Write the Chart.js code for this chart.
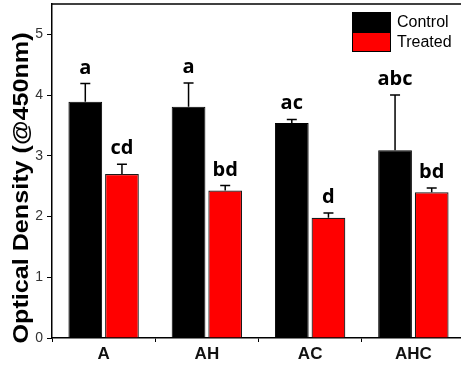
<!DOCTYPE html>
<html>
<head>
<meta charset="utf-8">
<script src="https://cdn.jsdelivr.net/npm/chart.js@4"></script>
<style>
  html, body { margin: 0; padding: 0; background: #fff; overflow: hidden; }
  #wrap { width: 470px; height: 367px; }
</style>
</head>
<body>
<div id="wrap"><canvas id="c" width="470" height="367"></canvas></div>
<script>
const categories = ['A', 'AH', 'AC', 'AHC'];
const controlValues = [3.89, 3.81, 3.54, 3.09];
const controlErrors = [0.30, 0.39, 0.06, 0.91];
const treatedValues = [2.70, 2.43, 1.98, 2.40];
const treatedErrors = [0.16, 0.08, 0.08, 0.07];
const controlLetters = ['a', 'a', 'ac', 'abc'];
const treatedLetters = ['cd', 'bd', 'd', 'bd'];
const yTicks = [0, 1, 2, 3, 4, 5];

const errors = [controlErrors, treatedErrors];
const letters = [controlLetters, treatedLetters];

const decor = {
  id: 'decor',
  afterDatasetsDraw(chart) {
    const ctx = chart.ctx;
    const y = chart.scales.y;
    chart.data.datasets.forEach((ds, di) => {
      const meta = chart.getDatasetMeta(di);
      meta.data.forEach((bar, i) => {
        const v = ds.data[i];
        const e = errors[di][i];
        const yTop = y.getPixelForValue(v);
        const yErr = y.getPixelForValue(v + e);
        ctx.save();
        ctx.strokeStyle = '#000';
        ctx.lineWidth = 1.5;
        ctx.beginPath();
        ctx.moveTo(bar.x, yTop);
        ctx.lineTo(bar.x, yErr);
        ctx.moveTo(bar.x - 5, yErr);
        ctx.lineTo(bar.x + 5, yErr);
        ctx.stroke();
        ctx.fillStyle = '#000';
        ctx.font = 'bold 20px "Open Sans"';
        ctx.textAlign = 'center';
        ctx.textBaseline = 'alphabetic';
        ctx.fillText(letters[di][i], bar.x, yErr - 10);
        ctx.restore();
      });
    });
  },
  afterDraw(chart) {
    const ctx = chart.ctx;
    const a = chart.chartArea;
    ctx.save();
    ctx.strokeStyle = '#000';
    ctx.lineWidth = 1.5;
    ctx.beginPath();
    ctx.moveTo(a.left, a.top);
    ctx.lineTo(a.right, a.top);
    ctx.stroke();
    ctx.save();
    ctx.translate(22, 188);
    ctx.rotate(-Math.PI / 2);
    ctx.scale(1.17, 1);
    ctx.font = 'bold 21.5px Arial, "Liberation Sans"';
    ctx.fillStyle = '#000';
    ctx.textAlign = 'center';
    ctx.textBaseline = 'middle';
    ctx.fillText('Optical Density (@450nm)', 0, 0);
    ctx.restore();
    const boxX = 352, boxW = 39, boxH = 20;
    chart.data.datasets.forEach((ds, di) => {
      const by = 12 + di * boxH;
      ctx.fillStyle = ds.backgroundColor;
      ctx.fillRect(boxX, by, boxW, boxH);
      ctx.strokeStyle = '#000';
      ctx.lineWidth = 1;
      ctx.strokeRect(boxX + 0.5, by + 0.5, boxW - 1, boxH - 1);
      ctx.fillStyle = '#000';
      ctx.font = '16px Arial, "Liberation Sans"';
      ctx.textAlign = 'left';
      ctx.textBaseline = 'middle';
      ctx.fillText(ds.label, boxX + boxW + 6, by + boxH / 2 + 1);
    });
    ctx.restore();
  }
};

new Chart(document.getElementById('c'), {
  type: 'bar',
  data: {
    labels: categories,
    datasets: [
      { label: 'Control', data: controlValues, backgroundColor: '#000000', borderColor: '#000000', borderWidth: 1 },
      { label: 'Treated', data: treatedValues, backgroundColor: '#ff0000', borderColor: '#1a1a1a', borderWidth: 1.2 }
    ]
  },
  options: {
    responsive: false,
    animation: false,
    devicePixelRatio: 1,
    layout: { padding: { top: 4, right: 5, left: 0, bottom: 0 } },
    datasets: { bar: { categoryPercentage: 0.71, barPercentage: 0.92 } },
    plugins: { legend: { display: false }, tooltip: { enabled: false } },
    scales: {
      x: {
        grid: { offset: true, drawOnChartArea: false, tickLength: 4, color: '#000', lineWidth: 1 },
        border: { color: '#000', width: 1.5 },
        ticks: { font: { family: 'Arial, "Liberation Sans"', size: 17, weight: 'bold' }, color: '#111', padding: 2 },
        afterFit(s) { s.height = 29; s.paddingLeft = 0; s.paddingRight = 0; }
      },
      y: {
        min: 0, max: 5.5,
        grid: { drawOnChartArea: false, tickLength: 5, color: '#000', lineWidth: 1 },
        border: { color: '#000', width: 1.5 },
        ticks: { font: { family: 'Arial, "Liberation Sans"', size: 14 }, color: '#333', padding: 4 },
        afterBuildTicks(s) { s.ticks = yTicks.map(v => ({ value: v })); },
        afterFit(s) { s.width = 52; s.paddingTop = 0; s.paddingBottom = 0; }
      }
    }
  },
  plugins: [decor]
});
</script>
</body>
</html>
